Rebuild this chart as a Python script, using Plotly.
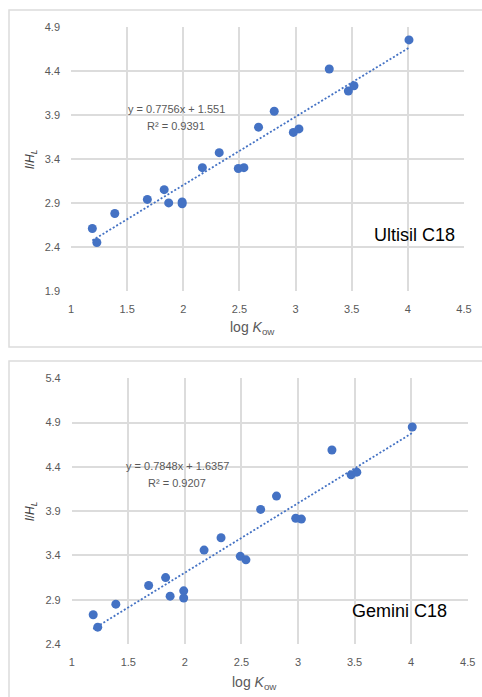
import plotly.graph_objects as go

# ---- data ----
log_kow = [1.19, 1.23, 1.39, 1.68, 1.83, 1.87, 1.99, 1.99, 2.17, 2.32,
           2.49, 2.54, 2.67, 2.81, 2.98, 3.03, 3.30, 3.47, 3.52, 4.01]
ultisil_y = [2.61, 2.45, 2.78, 2.94, 3.05, 2.90, 2.91, 2.89, 3.30, 3.47,
             3.29, 3.30, 3.76, 3.94, 3.70, 3.74, 4.42, 4.17, 4.23, 4.75]
gemini_y = [2.73, 2.59, 2.85, 3.06, 3.15, 2.94, 3.00, 2.92, 3.46, 3.60,
            3.39, 3.35, 3.92, 4.07, 3.82, 3.81, 4.59, 4.31, 4.34, 4.85]
panel_names = ["Ultisil C18", "Gemini C18"]
slopes = [0.7756, 0.7848]
intercepts = [1.551, 1.6357]
r2_values = [0.9391, 0.9207]
x_ticks = [1, 1.5, 2, 2.5, 3, 3.5, 4, 4.5]
x_title = "log <i>K</i><sub>ow</sub>"
y_title = "<i>l</i>/<i>H</i><sub><i>L</i></sub>"

W, H = 482, 697
BLUE = "#4472C4"
GRID = "#dcdcdc"
TXT = "#595959"
FONT = "Liberation Sans, Arial, sans-serif"

def px(x):
    return x / W

def py(y):
    return 1 - y / H

fig = go.Figure()
series = [ultisil_y, gemini_y]
axes = [("x", "y"), ("x2", "y2")]
for i, ys in enumerate(series):
    xa, ya = axes[i]
    xmin, xmax = min(log_kow), max(log_kow)
    fig.add_trace(go.Scatter(
        x=[xmin, xmax],
        y=[slopes[i] * xmin + intercepts[i], slopes[i] * xmax + intercepts[i]],
        mode="lines", xaxis=xa, yaxis=ya,
        line=dict(color=BLUE, width=1.8, dash="2px,2px"), showlegend=False))
    fig.add_trace(go.Scatter(
        x=log_kow, y=ys, mode="markers", xaxis=xa, yaxis=ya,
        marker=dict(color=BLUE, size=9), showlegend=False))

def xaxis(domain, anchor):
    return dict(domain=domain, anchor=anchor, range=[1, 4.5], tickvals=x_ticks,
                showgrid=True, gridcolor=GRID, gridwidth=1.5, zeroline=False,
                showline=False, ticks="", ticklabelstandoff=10, automargin=False,
                tickfont=dict(family=FONT, size=11, color=TXT))

def yaxis(domain, anchor, rng):
    return dict(domain=domain, anchor=anchor, range=rng, dtick=0.5,
                tick0=rng[0], automargin=False,
                showgrid=True, gridcolor=GRID, gridwidth=1.5, zeroline=False,
                showline=False, ticks="", ticklabelstandoff=10,
                tickfont=dict(family=FONT, size=11, color=TXT))

fig.update_layout(
    width=W, height=H, margin=dict(l=0, r=0, t=0, b=0),
    paper_bgcolor="white", plot_bgcolor="white",
    xaxis=xaxis([px(71), px(464)], "y"),
    yaxis=yaxis([py(291), py(26.7)], "x", [1.9, 4.9]),
    xaxis2=xaxis([px(71.7), px(467.7)], "y2"),
    yaxis2=yaxis([py(644), py(378.3)], "x2", [2.4, 5.4]),
    shapes=[
        dict(type="rect", xref="paper", yref="paper",
             x0=px(9), x1=1.02, y0=py(347), y1=py(10),
             line=dict(color=GRID, width=1.5), layer="below"),
        dict(type="rect", xref="paper", yref="paper",
             x0=px(9), x1=1.02, y0=-0.02, y1=py(361),
             line=dict(color=GRID, width=1.5), layer="below"),
    ],
)

eq_pos = [(176, 109, 126), (177, 466, 483)]
label_pos = [(457, 235), (449, 611)]
xtitle_pos = [(252, 328), (254, 683)]
ytitle_pos = [(31, 159), (31, 511)]
for i in range(2):
    ex, ey1, ey2 = eq_pos[i]
    fig.add_annotation(xref="paper", yref="paper", x=px(ex), y=py(ey1),
                       text=f"y = {slopes[i]}x + {intercepts[i]}", showarrow=False,
                       xanchor="center", yanchor="middle",
                       font=dict(family=FONT, size=11, color=TXT))
    fig.add_annotation(xref="paper", yref="paper", x=px(ex), y=py(ey2),
                       text=f"R² = {r2_values[i]}", showarrow=False,
                       xanchor="center", yanchor="middle",
                       font=dict(family=FONT, size=11, color=TXT))
    lx, ly = label_pos[i]
    fig.add_annotation(xref="paper", yref="paper", x=px(lx), y=py(ly),
                       text=panel_names[i], showarrow=False,
                       xanchor="right", yanchor="middle",
                       font=dict(family=FONT, size=18, color="black"))
    tx, ty = xtitle_pos[i]
    fig.add_annotation(xref="paper", yref="paper", x=px(tx), y=py(ty),
                       text=x_title, showarrow=False,
                       xanchor="center", yanchor="middle",
                       font=dict(family=FONT, size=14, color=TXT))
    vx, vy = ytitle_pos[i]
    fig.add_annotation(xref="paper", yref="paper", x=px(vx), y=py(vy),
                       text=y_title, showarrow=False, textangle=-90,
                       xanchor="center", yanchor="middle",
                       font=dict(family=FONT, size=12, color="#404040"))

fig.write_html("out.html")
